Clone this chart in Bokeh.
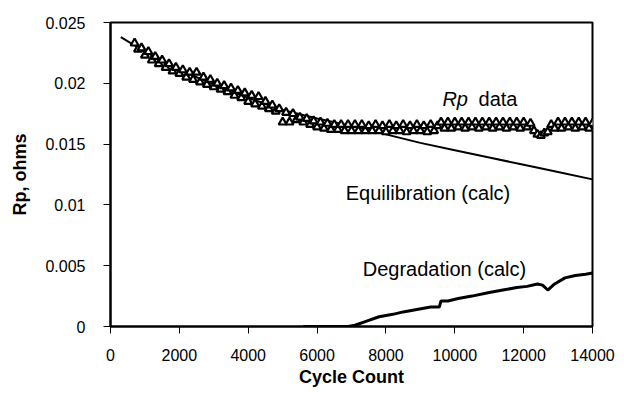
from bokeh.plotting import figure
from bokeh.models import FixedTicker, Range1d
from bokeh.core.properties import value
from bokeh.embed import file_html
from bokeh.resources import INLINE

# ---- data ----
x_ticks = [0, 2000, 4000, 6000, 8000, 10000, 12000, 14000]
x_tick_labels = ["0", "2000", "4000", "6000", "8000", "10000", "12000", "14000"]
y_ticks = [0, 0.005, 0.01, 0.015, 0.02, 0.025]
y_tick_labels = ["0", "0.005", "0.01", "0.015", "0.02", "0.025"]

rp_cycles = list(range(700, 14001, 100))
rp_values = [
    0.0233, 0.0228, 0.0229, 0.0223, 0.0226, 0.0219, 0.0222, 0.0216, 0.0219, 0.0213,
    0.0216, 0.0210, 0.0213, 0.0208, 0.0211, 0.0205, 0.0209, 0.0203, 0.0209, 0.0201,
    0.0205, 0.0199, 0.0203, 0.0197, 0.0200, 0.0195, 0.0198, 0.0193, 0.0196, 0.0190,
    0.0194, 0.0188, 0.0192, 0.0185, 0.0190, 0.0183, 0.0189, 0.0181, 0.0185, 0.0179,
    0.0182, 0.0177, 0.0179, 0.0168, 0.0176, 0.0168, 0.0175, 0.0170, 0.0172, 0.0168,
    0.0171, 0.0166, 0.0169, 0.0164, 0.0168, 0.0163, 0.0167, 0.0162, 0.0166, 0.0162,
    0.0166, 0.0161, 0.0166, 0.0161, 0.0166, 0.0161, 0.0166, 0.0161, 0.0165, 0.0161,
    0.0166, 0.0161, 0.0165, 0.0160, 0.0166, 0.0161, 0.0165, 0.0161, 0.0166, 0.0160,
    0.0165, 0.0161, 0.0166, 0.0161, 0.0165, 0.0160, 0.0166, 0.0161, 0.0165, 0.0168,
    0.0163, 0.0168, 0.0163, 0.0168, 0.0164, 0.0168, 0.0163, 0.0168, 0.0164, 0.0168,
    0.0163, 0.0168, 0.0164, 0.0168, 0.0163, 0.0168, 0.0164, 0.0168, 0.0163, 0.0168,
    0.0164, 0.0168, 0.0163, 0.0168, 0.0164, 0.0167, 0.0161, 0.0158, 0.0157, 0.0159,
    0.0160, 0.0166, 0.0163, 0.0168, 0.0163, 0.0168, 0.0164, 0.0168, 0.0163, 0.0168,
    0.0164, 0.0168, 0.0163, 0.0167,
]

equil_cycles = [300, 1000, 2000, 3000, 4000, 5000, 6000, 7000, 8000, 9000,
                10000, 11000, 12000, 13000, 14000]
equil_values = [0.0238, 0.0226, 0.0211, 0.0199, 0.0188, 0.0178, 0.0171, 0.0165,
                0.0158, 0.0151, 0.0145, 0.0139, 0.0133, 0.0127, 0.0121]

degr_cycles = [5600, 5900, 6100, 6300, 6500, 6700, 6900, 7100, 7400, 7800, 8200,
               8500, 8900, 9300, 9550, 9600, 9800, 10100, 10500, 11000, 11400,
               11800, 12100, 12400, 12550, 12700, 12900, 13200, 13500, 13800, 14000]
degr_values = [0.0000, 0.0000, 0.0000, 0.0000, 0.0000, 0.0000, 0.0000, 0.0001,
               0.0004, 0.0008, 0.0010, 0.0012, 0.0014, 0.0016, 0.0016, 0.0021,
               0.0021, 0.0023, 0.0025, 0.0028, 0.0030, 0.0032, 0.0033, 0.0035,
               0.0034, 0.0030, 0.0035, 0.0040, 0.0042, 0.0043, 0.0044]

FONT = "Liberation Sans"

p = figure(width=624, height=395, output_backend="svg", toolbar_location=None,
           x_range=Range1d(0, 14000), y_range=Range1d(0, 0.025),
           min_border_left=110, min_border_right=32, min_border_top=22,
           min_border_bottom=69)

p.background_fill_color = "white"
p.border_fill_color = "white"
p.outline_line_color = "black"
p.outline_line_width = 2
p.xgrid.visible = False
p.ygrid.visible = False

# lines and markers
p.line(equil_cycles, equil_values, line_color="black", line_width=2)
p.line(degr_cycles, degr_values, line_color="black", line_width=3)
p.scatter(rp_cycles, rp_values, marker="triangle", size=8, line_color="black",
          fill_color="white", line_width=2.2)

# annotations
p.text(x=[9640], y=[0.0187], text=["Rp"], text_font=value(FONT),
       text_font_size="20px", text_font_style="italic", text_align="left",
       text_baseline="alphabetic", text_color="black")
p.text(x=[10689], y=[0.0187], text=["data"], text_font=value(FONT),
       text_font_size="20px", text_align="left",
       text_baseline="alphabetic", text_color="black")
p.text(x=[9222], y=[0.0110], text=["Equilibration (calc)"], text_font=value(FONT),
       text_font_size="20px", text_align="center",
       text_baseline="alphabetic", text_color="black")
p.text(x=[9700], y=[0.0047], text=["Degradation (calc)"], text_font=value(FONT),
       text_font_size="20px", text_align="center",
       text_baseline="alphabetic", text_color="black")

# axes
for ax in (p.xaxis[0], p.yaxis[0]):
    ax.axis_line_color = "black"
    ax.axis_line_width = 2
    ax.major_tick_line_color = "black"
    ax.major_tick_line_width = 1
    ax.major_tick_in = 0
    ax.major_tick_out = 7
    ax.minor_tick_line_color = None
    ax.major_label_text_font = FONT
    ax.major_label_text_font_size = "16px"
    ax.major_label_text_color = "black"
    ax.axis_label_text_font = FONT
    ax.axis_label_text_font_size = "18px"
    ax.axis_label_text_font_style = "bold"
    ax.axis_label_text_color = "black"

p.xaxis[0].ticker = FixedTicker(ticks=x_ticks)
p.yaxis[0].ticker = FixedTicker(ticks=y_ticks)
p.xaxis[0].major_label_overrides = dict(zip(x_ticks, x_tick_labels))
p.yaxis[0].major_label_overrides = dict(zip(y_ticks, y_tick_labels))
p.xaxis[0].axis_label = "Cycle Count"
p.yaxis[0].axis_label = "Rp, ohms"
p.xaxis[0].major_label_standoff = 15
p.yaxis[0].major_label_standoff = 18
p.xaxis[0].axis_label_standoff = 3
p.yaxis[0].axis_label_standoff = 12

open("out.html", "w").write(file_html(p, INLINE))
